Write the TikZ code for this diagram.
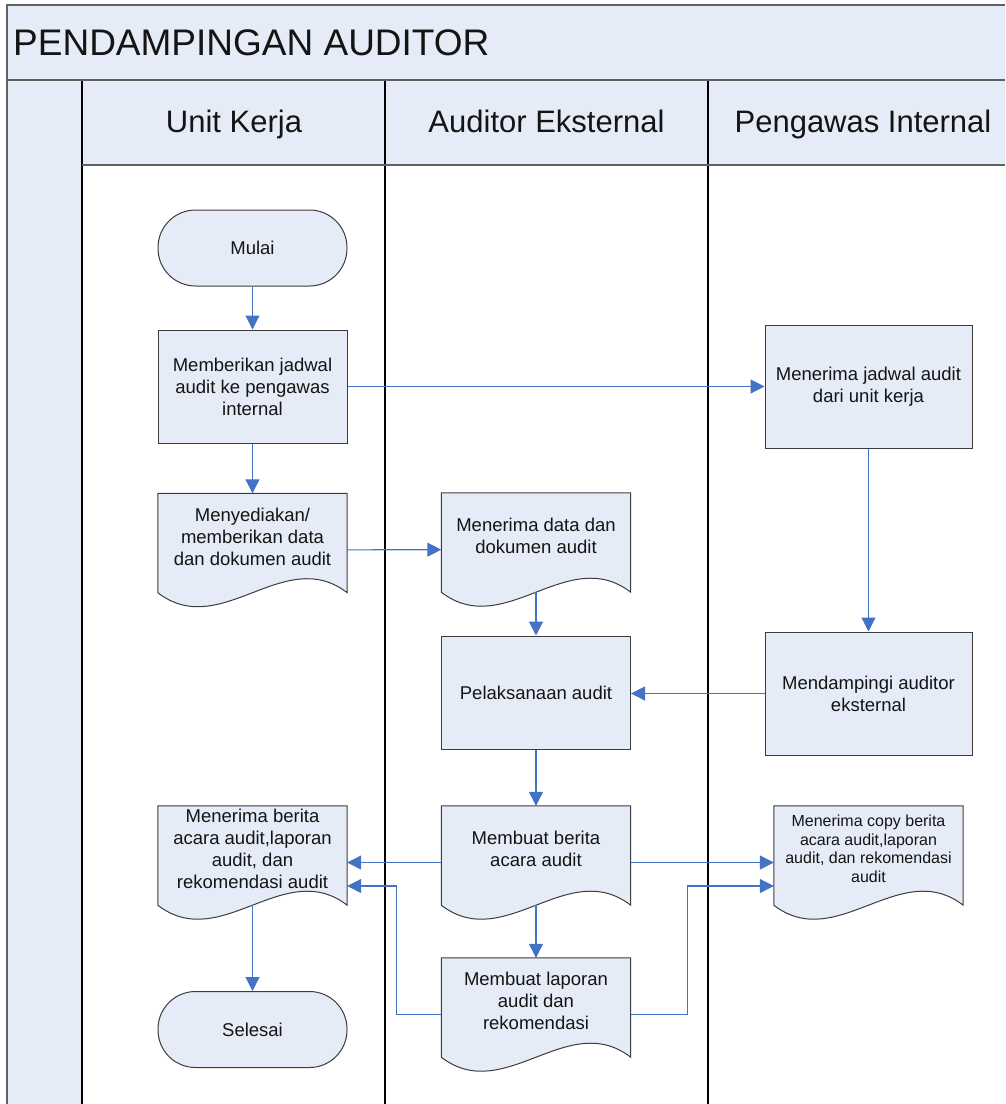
\documentclass[tikz,border=0pt]{standalone}
\usepackage{fontspec}
\setmainfont{Liberation Sans}
\usetikzlibrary{arrows.meta,calc}
\definecolor{lanefill}{RGB}{230,236,247}
\definecolor{flowblue}{RGB}{68,114,196}
\definecolor{edgegray}{RGB}{60,60,60}
\definecolor{txtcol}{RGB}{20,20,20}
\newcommand\nodefont{\fontsize{18.5}{22}\selectfont}
\newcommand\smallnodefont{\fontsize{16}{18.5}\selectfont}
\newcommand\headfont{\fontsize{31}{36}\selectfont}
\newcommand\titlefont{\fontsize{37}{42}\selectfont}
\tikzset{
  procbox/.style={draw=edgegray, line width=1pt, fill=lanefill, minimum width=189pt,
    minimum height=113pt, inner sep=0pt, text=txtcol, align=center, font=\nodefont},
  bigbox/.style={procbox, minimum width=207pt, minimum height=123pt},
  termbox/.style={procbox, rounded corners=37.5pt, minimum height=76pt},
  docbox/.style={minimum width=189pt, minimum height=113pt, inner sep=0pt},
  doctext/.style={text=txtcol, align=center, font=\nodefont, inner sep=0pt},
  docshape/.style={draw=edgegray, line width=1pt, fill=lanefill},
  flow/.style={draw=flowblue, line width=1.1pt, -{Triangle[length=14pt,width=14pt]}},
  laneline/.style={draw=black, line width=1.1pt},
  frameline/.style={draw=black!62, line width=1.8pt},
  headtext/.style={text=txtcol, font=\headfont, inner sep=0pt},
}
\newcommand\docoutline[1]{%
  \path[docshape] (#1.north west) -- (#1.north east) -- ($(#1.south east)+(0,-14)$)
    .. controls ($(#1.south east)+(-63,-62.5)$) and ($(#1.south west)+(63,34.5)$)
    .. ($(#1.south west)+(0,-14)$) -- cycle;}
\begin{document}
\begin{tikzpicture}[x=1pt,y=-1pt]
\useasboundingbox (0,0) rectangle (1005,1104);
% pool background
\fill[lanefill] (7,5) rectangle (1005,80);
\fill[lanefill] (7,80) rectangle (82,1104);
\fill[lanefill] (82,80) rectangle (1005,165);
% lane lines
\path[laneline] (82,80) -- (82,1104);
\path[laneline] (385,80) -- (385,1104);
\path[laneline] (708,80) -- (708,1104);
\path[frameline] (7,80) -- (1005,80);
\path[frameline] (82,165) -- (1005,165);
\path[frameline] (7,1104) -- (7,5) -- (1005,5);
% titles
\node[headtext, font=\titlefont, anchor=base west] (title) at (13,55) {PENDAMPINGAN AUDITOR};
\node[headtext, anchor=base] (lane1) at (234,132) {Unit Kerja};
\node[headtext, anchor=base] (lane2) at (546.5,132) {Auditor Eksternal};
\node[headtext, anchor=base] (lane3) at (863,132) {Pengawas Internal};
% Unit Kerja
\node[termbox] (mulai) at (252.5,248) {Mulai};
\node[procbox] (beri) at (252.5,386.5) {Memberikan jadwal\\audit ke pengawas\\internal};
\node[docbox] (sedia) at (252.5,550) {};
\docoutline{sedia}
\node[doctext] (sediat) at ($(sedia)+(0,-13.5)$) {Menyediakan/\\memberikan data\\dan dokumen audit};
\node[docbox] (terimaba) at (252.5,862.5) {};
\docoutline{terimaba}
\node[doctext] (terimabat) at ($(terimaba)+(0,-13.5)$) {Menerima berita\\acara audit,laporan\\audit, dan\\rekomendasi audit};
\node[termbox] (selesai) at (252.5,1029.5) {Selesai};
% Auditor Eksternal
\node[docbox] (terimadata) at (536,549.5) {};
\docoutline{terimadata}
\node[doctext] (terimadatat) at ($(terimadata)+(0,-13.5)$) {Menerima data dan\\dokumen audit};
\node[procbox] (laksana) at (536,692.5) {Pelaksanaan audit};
\node[docbox] (buatba) at (536,862.5) {};
\docoutline{buatba}
\node[doctext] (buatbat) at ($(buatba)+(0,-13.5)$) {Membuat berita\\acara audit};
\node[docbox] (lapor) at (536,1014.5) {};
\docoutline{lapor}
\node[doctext] (laport) at ($(lapor)+(0,-13.5)$) {Membuat laporan\\audit dan\\rekomendasi};
% Pengawas Internal
\node[bigbox] (jadwal) at (868.5,386.5) {Menerima jadwal audit\\dari unit kerja};
\node[bigbox] (damping) at (868.5,693.5) {Mendampingi auditor\\eksternal};
\node[docbox] (copy) at (868.5,862.5) {};
\docoutline{copy}
\node[doctext, font=\smallnodefont] (copyt) at ($(copy)+(0,-13.5)$) {Menerima copy berita\\acara audit,laporan\\audit, dan rekomendasi\\audit};
% connectors
\draw[flow] (mulai) -- (beri);
\draw[flow] (beri) -- (jadwal);
\draw[flow] (beri) -- (sedia);
\draw[flow] (sedia) -- (terimadata);
\draw[flow] ($(terimadata.south)+(0,-14)$) -- (laksana);
\draw[flow] (jadwal) -- (damping);
\draw[flow] (damping.west) -- (damping.west -| laksana.east);
\draw[flow] (laksana) -- (buatba);
\draw[flow] (buatba) -- (terimaba);
\draw[flow] (buatba) -- (copy);
\draw[flow] ($(buatba.south)+(0,-14)$) -- (lapor);
\coordinate (lapL) at ($(lapor.west)+(-45,0)$);
\coordinate (lapR) at ($(lapor.east)+(57,0)$);
\coordinate (baIn) at ($(terimaba.east)+(0,23.5)$);
\coordinate (cpIn) at ($(copy.west)+(0,23.5)$);
\draw[flow] (lapor.west) -- (lapL) -- (lapL |- baIn) -- (baIn);
\draw[flow] (lapor.east) -- (lapR) -- (lapR |- cpIn) -- (cpIn);
\draw[flow] ($(terimaba.south)+(0,-14)$) -- (selesai);
\end{tikzpicture}
\end{document}
